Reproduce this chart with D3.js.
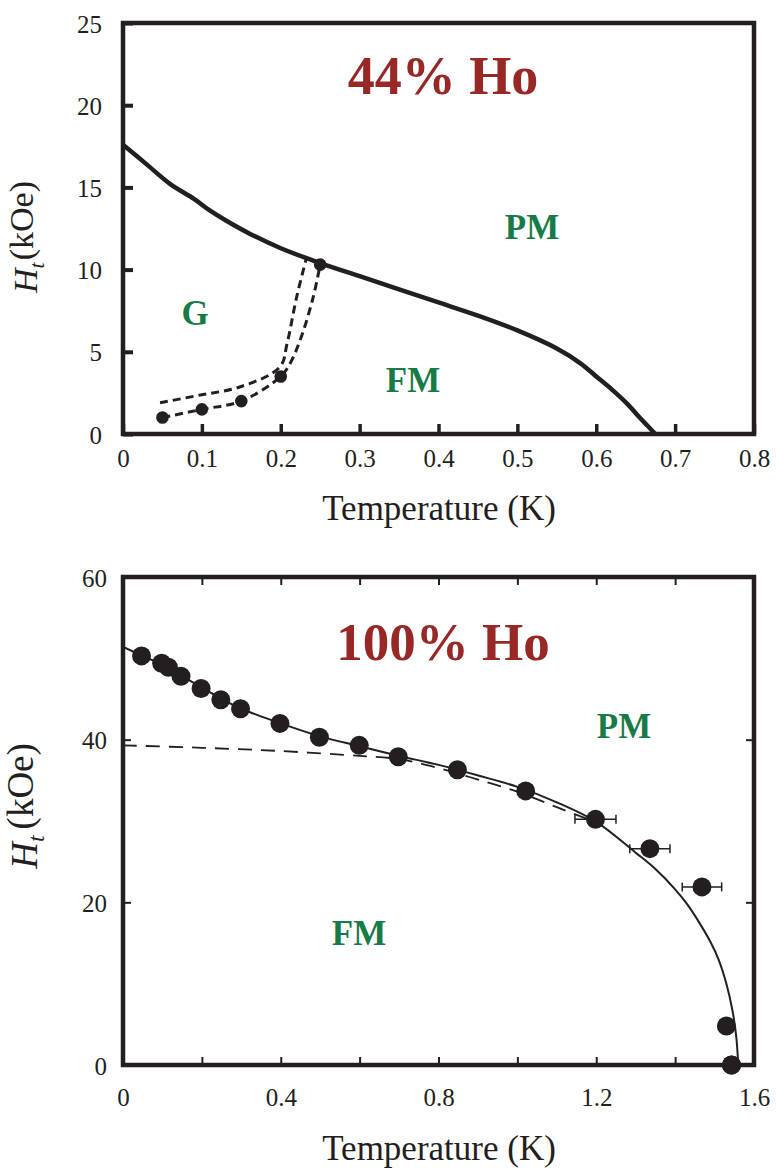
<!DOCTYPE html>
<html>
<head>
<meta charset="utf-8">
<script src="https://cdn.jsdelivr.net/npm/d3@7"></script>
<style>
  html, body { margin: 0; padding: 0; background: #fff; }
  svg { display: block; }
</style>
</head>
<body>
<svg id="fig" width="776" height="1171"></svg>
<script>
// ---------- 44% Ho: phase boundaries ----------
const ho44BoundaryT = [0, 0.03, 0.06, 0.09, 0.11, 0.13, 0.16, 0.2, 0.25, 0.3, 0.35, 0.4, 0.45, 0.5, 0.55, 0.58, 0.6, 0.62, 0.64, 0.655, 0.665, 0.671, 0.675];
const ho44BoundaryH = [17.6, 16.4, 15.2, 14.3, 13.6, 13.0, 12.2, 11.3, 10.4, 9.6, 8.8, 8.0, 7.2, 6.3, 5.2, 4.3, 3.5, 2.7, 1.8, 1.0, 0.5, 0.2, 0];

const ho44PointsT = [0.05, 0.1, 0.15, 0.2, 0.25];
const ho44PointsH = [1.0, 1.5, 2.0, 3.5, 10.3];

const ho44LowerT = [0.05, 0.1, 0.15, 0.2, 0.212, 0.226, 0.241, 0.25];
const ho44LowerH = [1.0, 1.5, 2.0, 3.5, 4.3, 5.9, 8.3, 10.3];

const ho44UpperT = [0.047, 0.098, 0.148, 0.199, 0.208, 0.22, 0.232];
const ho44UpperH = [1.9, 2.37, 2.86, 4.08, 5.5, 8.3, 10.6];

const ho44TempTicks = [0, 0.1, 0.2, 0.3, 0.4, 0.5, 0.6, 0.7, 0.8];
const ho44FieldTicks = [0, 5, 10, 15, 20, 25];

// ---------- 100% Ho: measured transition field ----------
const ho100PointsT = [0.047, 0.098, 0.115, 0.147, 0.198, 0.248, 0.298, 0.398, 0.498, 0.599, 0.698, 0.848, 1.021, 1.198, 1.336, 1.468, 1.530, 1.543];
const ho100PointsH = [50.3, 49.4, 48.9, 47.8, 46.3, 44.9, 43.8, 42.0, 40.3, 39.3, 37.9, 36.3, 33.7, 30.2, 26.6, 21.9, 4.8, 0];
const ho100ErrT    = [0, 0, 0, 0, 0, 0, 0, 0, 0, 0, 0, 0, 0, 0.052, 0.051, 0.05, 0, 0];

const ho100FitT = [0, 0.05, 0.1, 0.15, 0.2, 0.25, 0.3, 0.4, 0.5, 0.6, 0.7, 0.8, 0.9, 1.0, 1.1, 1.2, 1.3, 1.35, 1.4, 1.43, 1.46, 1.49, 1.51, 1.53, 1.545, 1.555, 1.56];
const ho100FitH = [51.4, 50.3, 49.2, 47.8, 46.4, 45.0, 43.8, 42.0, 40.4, 39.2, 38.0, 36.9, 35.6, 34.2, 32.3, 29.9, 26.1, 24.1, 21.6, 19.8, 17.6, 15.1, 13.0, 10.0, 6.8, 3.5, 0];

const ho100MeanFieldT = [0, 0.2, 0.4, 0.6, 0.7, 0.8, 0.9, 1.0, 1.1, 1.18];
const ho100MeanFieldH = [39.3, 39.0, 38.6, 38.0, 37.6, 36.5, 35.1, 33.6, 31.7, 30.2];

const ho100TempTicks = [0, 0.2, 0.4, 0.6, 0.8, 1.0, 1.2, 1.4, 1.6];
const ho100TempLabels = [0, 0.4, 0.8, 1.2, 1.6];
const ho100FieldTicks = [0, 20, 40, 60];
const ho100RightTicks = [20, 40];

const INK = "#231f20";
const RED = "#982826";
const GREEN = "#177a47";
const SERIF = '"Liberation Serif", "Times New Roman", Times, serif';

const svg = d3.select("#fig");
svg.append("rect").attr("width", 776).attr("height", 1171).attr("fill", "#fff");

function zip(a, b) { return a.map((v, i) => [v, b[i]]); }

function styleAxis(g, tickWidth, fontSize) {
  g.attr("font-family", SERIF).attr("font-size", fontSize);
  g.select(".domain").remove();
  g.selectAll(".tick line").attr("stroke", INK).attr("stroke-width", tickWidth);
  g.selectAll(".tick text").attr("fill", INK)
    .style("font-family", SERIF).style("font-size", fontSize + "px");
}

function fieldLabel(x, y, size, gap) {
  const t = svg.append("text")
    .attr("transform", `translate(${x},${y}) rotate(-90)`)
    .attr("text-anchor", "middle")
    .attr("fill", INK)
    .style("font-family", SERIF)
    .style("font-size", size + "px");
  t.append("tspan").attr("font-style", "italic").text("H");
  t.append("tspan").attr("font-style", "italic").style("font-size", Math.round(size * 0.65) + "px")
    .attr("dy", "0.3em").text("t");
  t.append("tspan").attr("dy", "-0.3em").attr("dx", gap).text("(kOe)");
}

function tempLabel(x, y) {
  svg.append("text").attr("x", x).attr("y", y)
    .attr("text-anchor", "middle").attr("fill", INK)
    .style("font-family", SERIF)
    .style("font-size", "35px").text("Temperature (K)");
}

function tag(x, y, text, color, size) {
  svg.append("text").attr("x", x).attr("y", y)
    .attr("text-anchor", "middle").attr("fill", color)
    .style("font-family", SERIF)
    .attr("font-weight", "bold").style("font-size", size + "px").text(text);
}

const smooth = d3.curveCatmullRom.alpha(0.5);

// ================= Panel 1: 44% Ho =================
{
  const L = 123, R = 754, T = 23, B = 434;
  const x = d3.scaleLinear().domain([0, 0.8]).range([L, R]);
  const y = d3.scaleLinear().domain([0, 25]).range([B, T]);

  const ax = svg.append("g").attr("transform", `translate(0,${B})`)
    .call(d3.axisBottom(x).tickValues(ho44TempTicks).tickSize(-10).tickPadding(15)
      .tickFormat(d => d === 0 ? "0" : d3.format(".1f")(d)));
  styleAxis(ax, 3.5, 25);

  const ay = svg.append("g").attr("transform", `translate(${L},0)`)
    .call(d3.axisLeft(y).tickValues(ho44FieldTicks).tickSize(-10).tickPadding(21).tickFormat(d3.format("d")));
  styleAxis(ay, 4, 25);
  ay.selectAll(".tick text").attr("dy", "0.36em");

  const line = d3.line().x(d => x(d[0])).y(d => y(d[1])).curve(smooth);

  svg.append("path").attr("d", line(zip(ho44BoundaryT, ho44BoundaryH)))
    .attr("fill", "none").attr("stroke", INK).attr("stroke-width", 4.5).attr("stroke-linejoin", "round");

  [zip(ho44LowerT, ho44LowerH), zip(ho44UpperT, ho44UpperH)].forEach(pts => {
    svg.append("path").attr("d", line(pts))
      .attr("fill", "none").attr("stroke", INK).attr("stroke-width", 3)
      .attr("stroke-dasharray", "8,5");
  });

  svg.append("g").selectAll("circle").data(zip(ho44PointsT, ho44PointsH)).join("circle")
    .attr("cx", d => x(d[0])).attr("cy", d => y(d[1])).attr("r", 6.3).attr("fill", INK);

  svg.append("rect").attr("x", L).attr("y", T).attr("width", R - L).attr("height", B - T)
    .attr("fill", "none").attr("stroke", INK).attr("stroke-width", 4.5);

  tag(443, 94, "44% Ho", RED, 54);
  tag(532, 239, "PM", GREEN, 35);
  tag(195, 325, "G", GREEN, 35);
  tag(413, 392, "FM", GREEN, 35);

  fieldLabel(37, 237, 34, 2);
  tempLabel(439, 520);
}

// ================= Panel 2: 100% Ho =================
{
  const L = 123, R = 754, T = 577, B = 1065;
  const x = d3.scaleLinear().domain([0, 1.6]).range([L, R]);
  const y = d3.scaleLinear().domain([0, 60]).range([B, T]);

  const fmtT = d => ho100TempLabels.some(v => Math.abs(v - d) < 1e-9) ? (d === 0 ? "0" : d3.format(".1f")(d)) : "";

  const ax = svg.append("g").attr("transform", `translate(0,${B})`)
    .call(d3.axisBottom(x).tickValues(ho100TempTicks).tickSize(-8).tickPadding(23).tickFormat(fmtT));
  styleAxis(ax, 2, 25);

  const axTop = svg.append("g").attr("transform", `translate(0,${T})`)
    .call(d3.axisTop(x).tickValues(ho100TempTicks).tickSize(-8).tickFormat(""));
  styleAxis(axTop, 2, 25);

  const ay = svg.append("g").attr("transform", `translate(${L},0)`)
    .call(d3.axisLeft(y).tickValues(ho100FieldTicks).tickSize(-8).tickPadding(16).tickFormat(d3.format("d")));
  styleAxis(ay, 2, 25);
  ay.selectAll(".tick text").attr("dy", "0.36em");

  const ayR = svg.append("g").attr("transform", `translate(${R},0)`)
    .call(d3.axisRight(y).tickValues(ho100RightTicks).tickSize(-8).tickFormat(""));
  styleAxis(ayR, 2, 25);

  const line = d3.line().x(d => x(d[0])).y(d => y(d[1])).curve(smooth);

  svg.append("path").attr("d", line(zip(ho100MeanFieldT, ho100MeanFieldH)))
    .attr("fill", "none").attr("stroke", INK).attr("stroke-width", 1.8)
    .attr("stroke-dasharray", "14,9");

  svg.append("path").attr("d", line(zip(ho100FitT, ho100FitH)))
    .attr("fill", "none").attr("stroke", INK).attr("stroke-width", 2);

  const pts = ho100PointsT.map((t, i) => ({ t, h: ho100PointsH[i], e: ho100ErrT[i] }));
  const eb = svg.append("g").attr("stroke", INK).attr("stroke-width", 1.5).attr("fill", "none");
  pts.filter(d => d.e > 0).forEach(d => {
    const cy = y(d.h);
    eb.append("line").attr("x1", x(d.t - d.e)).attr("x2", x(d.t + d.e)).attr("y1", cy).attr("y2", cy);
    eb.append("line").attr("x1", x(d.t - d.e)).attr("x2", x(d.t - d.e)).attr("y1", cy - 4.5).attr("y2", cy + 4.5);
    eb.append("line").attr("x1", x(d.t + d.e)).attr("x2", x(d.t + d.e)).attr("y1", cy - 4.5).attr("y2", cy + 4.5);
  });

  svg.append("g").selectAll("circle").data(pts).join("circle")
    .attr("cx", d => x(d.t)).attr("cy", d => y(d.h)).attr("r", 9.5).attr("fill", INK);

  svg.append("rect").attr("x", L).attr("y", T).attr("width", R - L).attr("height", B - T)
    .attr("fill", "none").attr("stroke", INK).attr("stroke-width", 4.5);

  // last point sits on the axis and is drawn above the frame
  svg.append("circle").attr("cx", x(pts[pts.length - 1].t)).attr("cy", y(pts[pts.length - 1].h))
    .attr("r", 9.5).attr("fill", INK);

  tag(443, 660, "100% Ho", RED, 53);
  tag(624, 738, "PM", GREEN, 35);
  tag(359, 945, "FM", GREEN, 35);

  fieldLabel(37, 806, 37, 6);
  tempLabel(439, 1160);
}
</script>
</body>
</html>
